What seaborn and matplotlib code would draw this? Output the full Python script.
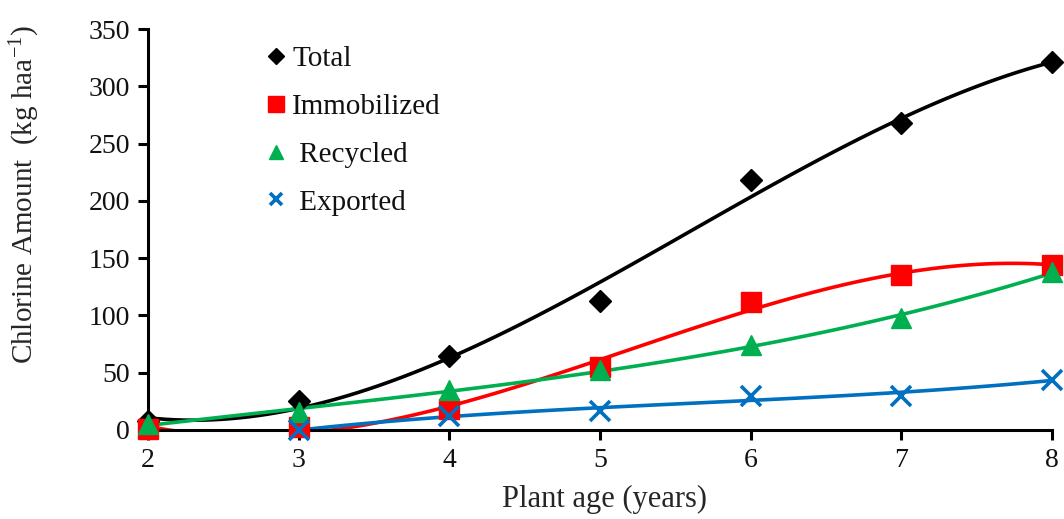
import numpy as np
import pandas as pd
import matplotlib
matplotlib.use("Agg")
import matplotlib.pyplot as plt
import seaborn as sns
from matplotlib.lines import Line2D

# ---- data ----
age = [2, 3, 4, 5, 6, 7, 8]
total = [8, 25, 65, 113, 218, 268, 321]
immobilized = [1, 3, 18, 55, 112, 135, 144]
recycled = [5, 16, 35, 52, 74, 98, 138]
exported = [np.nan, 0, 12, 17, 30, 30, 44]   # no exported point at age 2
series_names = ["Total", "Immobilized", "Recycled", "Exported"]
legend_labels = ["Total", "Immobilized", " Recycled", " Exported"]
x_ticks = [2, 3, 4, 5, 6, 7, 8]
y_ticks = [0, 50, 100, 150, 200, 250, 300, 350]

df = pd.DataFrame({"age": age, "Total": total, "Immobilized": immobilized,
                   "Recycled": recycled, "Exported": exported})

sns.set_theme(style="ticks")
plt.rcParams['font.family'] = ['Liberation Serif', 'DejaVu Serif']
plt.rcParams['mathtext.fontset'] = 'custom'
plt.rcParams['mathtext.rm'] = 'Liberation Serif'
plt.rcParams['mathtext.it'] = 'Liberation Serif:italic'
plt.rcParams['text.color'] = '#111111'

colors = {"Total": "#000000", "Immobilized": "#FF0000",
          "Recycled": "#00B050", "Exported": "#0070C0"}
markers = {"Total": "D", "Immobilized": "s", "Recycled": "^", "Exported": "x"}
msizes = {"Total": 11, "Immobilized": 15, "Recycled": 15, "Exported": 15}
leg_sizes = {"Total": 8, "Immobilized": 11, "Recycled": 10, "Exported": 9}

fig = plt.figure(figsize=(10.64, 5.19), dpi=100)
ax = fig.add_axes([0.1391, 0.1715, 0.8496, 0.7726])
ax.set_xlim(2, 8)
ax.set_ylim(0, 350)

for name in series_names:
    sub = df[["age", name]].dropna()
    sns.regplot(data=sub, x="age", y=name, order=3, ci=None, scatter=False, ax=ax,
                truncate=(name != "Exported"),
                line_kws=dict(color=colors[name], lw=2.6, zorder=2))

for name in series_names:
    mew = 2.6 if name == "Exported" else 1
    ax.plot(df["age"], df[name], linestyle="none", marker=markers[name],
            ms=msizes[name], color=colors[name], mec=colors[name], mew=mew,
            clip_on=False, zorder=3)

ax.set_xlim(2, 8)
ax.set_ylim(0, 350)
ax.set_xticks(x_ticks)
ax.set_yticks(y_ticks)
ax.tick_params(axis="both", direction="out", length=7, width=2.2, color="black",
               labelsize=20, labelcolor="#111111")
ax.tick_params(axis="y", pad=6)
ax.tick_params(axis="x", pad=6)
for s in ["top", "right"]:
    ax.spines[s].set_visible(False)
for s in ["left", "bottom"]:
    ax.spines[s].set_linewidth(2.2)
    ax.spines[s].set_color("black")

ax.set_xlabel("Plant age (years)", fontsize=22)
ax.set_ylabel(r"Chlorine Amount  (kg haa$^{\mathregular{-1}}$)", fontsize=21)
ax.xaxis.set_label_coords(0.505, -0.137)
ax.yaxis.set_label_coords(-0.117, 0.588)

handles = []
for name in series_names:
    mew = 2.6 if name == "Exported" else 1
    handles.append(Line2D([], [], linestyle="none", marker=markers[name],
                          ms=leg_sizes[name], color=colors[name],
                          mec=colors[name], mew=mew))
ax.legend(handles, legend_labels, loc="upper left",
          bbox_to_anchor=(263 / 1064, 1 - 46 / 519),
          bbox_transform=fig.transFigure, frameon=False, fontsize=21,
          handlelength=0.9, handletextpad=0.1, labelspacing=0.73,
          borderpad=0, borderaxespad=0)

fig.savefig("out.png", dpi=100)
